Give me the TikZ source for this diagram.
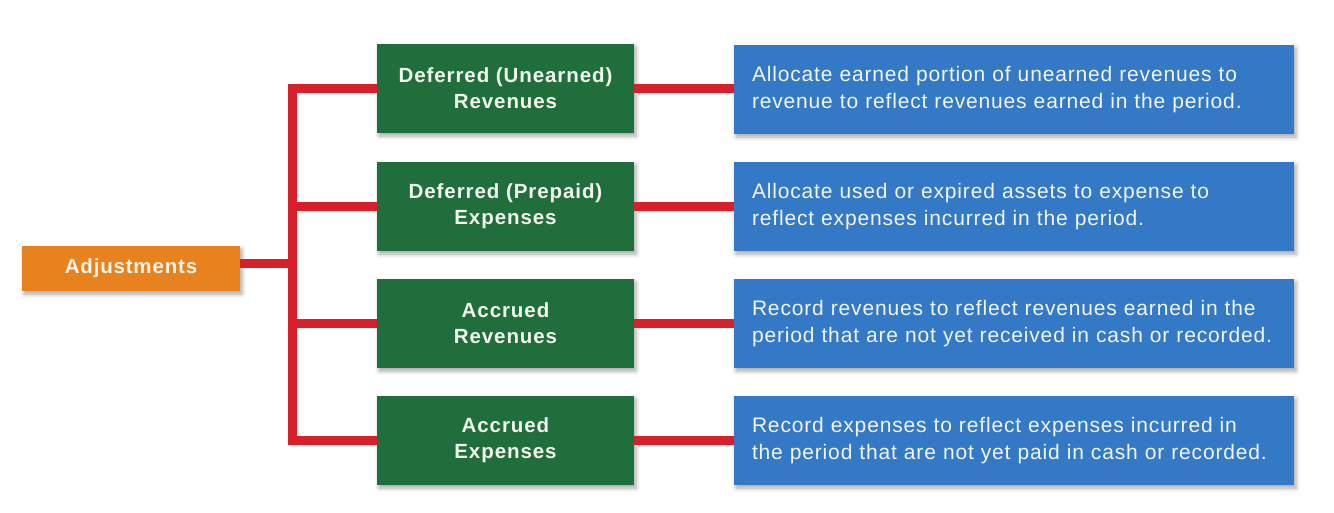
\documentclass[tikz,border=0pt]{standalone}
\usepackage{fontspec}
\setmainfont{Liberation Sans}
\usetikzlibrary{shadows.blur}
\definecolor{adjorange}{HTML}{E8821E}
\definecolor{boxgreen}{HTML}{1F6E3B}
\definecolor{boxblue}{HTML}{3479C5}
\definecolor{linkred}{HTML}{D9202A}
\definecolor{boxtext}{HTML}{F3F6EC}
\tikzset{
  shade/.style={blur shadow={shadow xshift=2pt, shadow yshift=-3pt, shadow blur radius=4pt, shadow opacity=35}},
  adjbox/.style={shade, fill=adjorange, text=boxtext, font=\fontsize{20.5}{24}\selectfont\bfseries\addfontfeature{LetterSpace=4},
    minimum width=218pt, minimum height=45pt, inner sep=0pt},
  catbox/.style={shade, fill=boxgreen, text=boxtext, font=\fontsize{20.5}{26}\selectfont\bfseries\addfontfeature{LetterSpace=4.5},
    minimum width=257pt, minimum height=89pt, inner sep=0pt, align=center},
  descbox/.style={shade, fill=boxblue, text=boxtext, font=\fontsize{21}{26.5}\selectfont\addfontfeature{LetterSpace=4},
    minimum width=560pt, minimum height=89pt, inner sep=0pt, text width=524pt, align=left},
  link/.style={draw=linkred, line width=9pt, line join=miter}
}
\begin{document}
\begin{tikzpicture}[x=1pt,y=-1pt]
\useasboundingbox (0,0) rectangle (1334,512);
\coordinate (sp) at (292,263);
\node[adjbox] (adj) at (131,268.5) {Adjustments};
\node[catbox] (g1) at (505.5,88.5) {Deferred (Unearned)\\Revenues};
\node[catbox] (g2) at (505.5,206.5) {Deferred (Prepaid)\\Expenses};
\node[catbox] (g3) at (505.5,323.5) {Accrued\\Revenues};
\node[catbox] (g4) at (505.5,440.5) {Accrued\\Expenses};
\node[descbox] (b1) at (1014,89.5) {Allocate earned portion of unearned revenues to\\revenue to reflect revenues earned in the period.};
\node[descbox] (b2) at (1014,206.5) {Allocate used or expired assets to expense to\\reflect expenses incurred in the period.};
\node[descbox] (b3) at (1014,323.5) {Record revenues to reflect revenues earned in the\\period that are not yet received in cash or recorded.};
\node[descbox] (b4) at (1014,440.5) {Record expenses to reflect expenses incurred in\\the period that are not yet paid in cash or recorded.};
\draw[link] ([yshift=5.5pt]adj.east) -- (sp);
\draw[link] (g1.west) -- (g1.west -| sp) -- (g4.west -| sp) -- (g4.west);
\draw[link] (g2.west) -- (g2.west -| sp);
\draw[link] (g3.west) -- (g3.west -| sp);
\draw[link] (g1.east) -- (b1.west |- g1.east);
\draw[link] (g2.east) -- (b2.west |- g2.east);
\draw[link] (g3.east) -- (b3.west |- g3.east);
\draw[link] (g4.east) -- (b4.west |- g4.east);
\end{tikzpicture}
\end{document}
